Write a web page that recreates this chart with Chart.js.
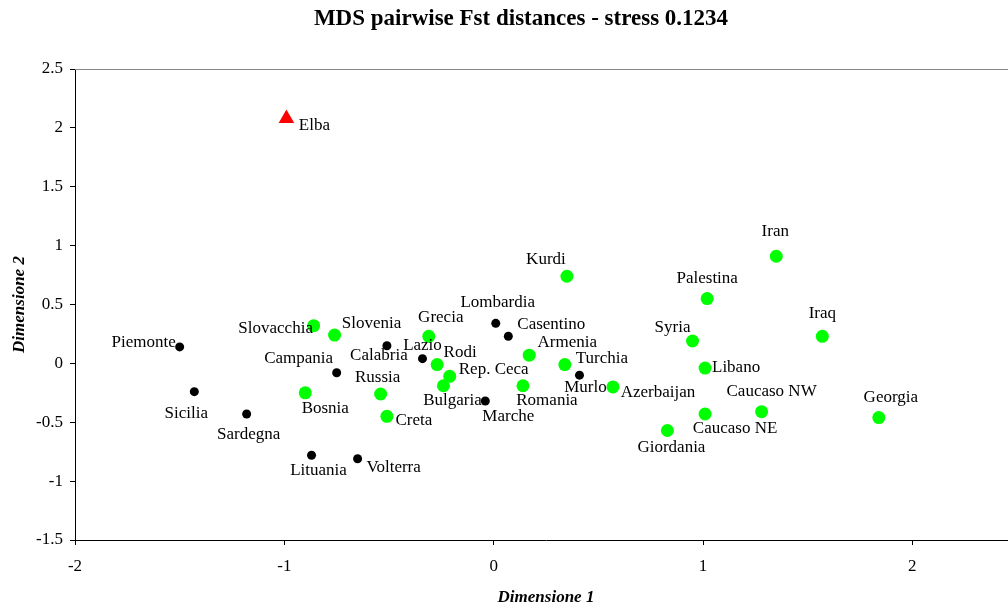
<!DOCTYPE html>
<html>
<head>
<meta charset="utf-8">
<script src="https://cdn.jsdelivr.net/npm/chart.js@4.4.1/dist/chart.umd.min.js"></script>
<style>
  html, body { margin: 0; padding: 0; background: #fff; overflow: hidden; }
  #wrap { width: 1026px; height: 607px; position: relative; }
</style>
</head>
<body>
<div id="wrap"><canvas id="mds"></canvas></div>
<script>
// DATA
const italyNames = ["Piemonte", "Sicilia", "Sardegna", "Campania", "Lituania", "Volterra", "Calabria",
  "Lazio", "Lombardia", "Casentino", "Marche", "Murlo"];
const italyX = [-1.50, -1.43, -1.18, -0.75, -0.87, -0.65, -0.51, -0.34, 0.01, 0.07, -0.04, 0.41];
const italyY = [0.14, -0.24, -0.43, -0.08, -0.78, -0.81, 0.15, 0.04, 0.34, 0.23, -0.32, -0.10];

const otherNames = ["Slovacchia", "Slovenia", "Grecia", "Rodi", "Rep. Ceca", "Bulgaria", "Russia", "Creta",
  "Bosnia", "Armenia", "Romania", "Turchia", "Kurdi", "Azerbaijan", "Palestina", "Iran", "Syria",
  "Libano", "Iraq", "Caucaso NW", "Caucaso NE", "Giordania", "Georgia"];
const otherX = [-0.86, -0.76, -0.31, -0.27, -0.21, -0.24, -0.54, -0.51, -0.90, 0.17, 0.14, 0.34, 0.35,
  0.57, 1.02, 1.35, 0.95, 1.01, 1.57, 1.28, 1.01, 0.83, 1.84];
const otherY = [0.32, 0.24, 0.23, -0.01, -0.11, -0.19, -0.26, -0.45, -0.25, 0.07, -0.19, -0.01, 0.74,
  -0.20, 0.55, 0.91, 0.19, -0.04, 0.23, -0.41, -0.43, -0.57, -0.46];

const elbaNames = ["Elba"];
const elbaX = [-0.99];
const elbaY = [2.08];

const xTicks = [-2, -1, 0, 1, 2];
const yTicks = [-1.5, -1, -0.5, 0, 0.5, 1, 1.5, 2, 2.5];

// label placement (text centre relative to the point, px)
const labelOffset = {
  "Elba": [28, 7], "Piemonte": [-36, -4], "Sicilia": [-8, 22], "Sardegna": [2, 21],
  "Campania": [-38, -14], "Lituania": [7, 15], "Volterra": [36, 9], "Calabria": [-8, 10],
  "Lazio": [0, -13], "Lombardia": [2, -21], "Casentino": [43, -12], "Marche": [23, 15],
  "Murlo": [6, 12], "Slovacchia": [-38, 3], "Slovenia": [37, -12], "Grecia": [12, -19],
  "Rodi": [23, -12], "Rep. Ceca": [44, -7], "Bulgaria": [9, 15], "Russia": [-3, -16],
  "Creta": [27, 4], "Bosnia": [20, 16], "Armenia": [38, -13], "Romania": [24, 15],
  "Turchia": [37, -6], "Kurdi": [-21, -17], "Azerbaijan": [45, 6], "Palestina": [0, -20],
  "Iran": [-1, -25], "Syria": [-20, -13], "Libano": [31, -1], "Iraq": [0, -23],
  "Caucaso NW": [10, -20], "Caucaso NE": [30, 15], "Giordania": [4, 17], "Georgia": [12, -20]
};

const toPoints = (xs, ys) => xs.map((x, i) => ({ x: x, y: ys[i] }));
const serif = "'Liberation Serif', 'DejaVu Serif', serif";

const labelsPlugin = {
  id: "pointLabels",
  afterDatasetsDraw(chart) {
    const ctx = chart.ctx;
    ctx.save();
    ctx.font = "17px " + serif;
    ctx.fillStyle = "#000";
    ctx.textAlign = "center";
    ctx.textBaseline = "middle";
    chart.data.datasets.forEach((ds, di) => {
      const meta = chart.getDatasetMeta(di);
      meta.data.forEach((el, i) => {
        const name = ds.names[i];
        const off = labelOffset[name] || [0, -15];
        ctx.fillText(name, el.x + off[0], el.y + off[1]);
      });
    });
    ctx.restore();
  }
};

const framePlugin = {
  id: "frame",
  beforeDatasetsDraw(chart) {
    const { ctx, chartArea } = chart;
    ctx.save();
    ctx.strokeStyle = "#888";
    ctx.lineWidth = 1;
    ctx.beginPath();
    ctx.moveTo(chartArea.left, chartArea.top + 0.5);
    ctx.lineTo(chartArea.right, chartArea.top + 0.5);
    ctx.stroke();
    ctx.restore();
  },
  afterDraw(chart) {
    const { ctx, chartArea } = chart;
    ctx.save();
    ctx.fillStyle = "#000";
    ctx.textAlign = "center";
    ctx.textBaseline = "middle";
    ctx.font = "bold 23px " + serif;
    ctx.fillText("MDS pairwise Fst distances - stress 0.1234", 521, 19);
    ctx.font = "italic bold 17px " + serif;
    ctx.fillText("Dimensione 1", (chartArea.left + chartArea.right) / 2, 598);
    ctx.translate(20, (chartArea.top + chartArea.bottom) / 2);
    ctx.rotate(-Math.PI / 2);
    ctx.fillText("Dimensione 2", 0, 0);
    ctx.restore();
  }
};

new Chart(document.getElementById("mds"), {
  type: "scatter",
  data: {
    datasets: [
      {
        label: "Italia",
        names: italyNames,
        data: toPoints(italyX, italyY),
        pointStyle: "circle",
        pointRadius: 4.5,
        backgroundColor: "#000",
        borderWidth: 0
      },
      {
        label: "Altri",
        names: otherNames,
        data: toPoints(otherX, otherY),
        pointStyle: "circle",
        pointRadius: 6.5,
        backgroundColor: "#00ff00",
        borderWidth: 0
      },
      {
        label: "Elba",
        names: elbaNames,
        data: toPoints(elbaX, elbaY),
        pointStyle: "triangle",
        pointRadius: 9,
        backgroundColor: "#ff0000",
        borderWidth: 0
      }
    ]
  },
  options: {
    responsive: true,
    maintainAspectRatio: false,
    animation: false,
    layout: { padding: { top: 69, left: 0, right: 4.5, bottom: 0 } },
    plugins: {
      legend: { display: false },
      tooltip: { enabled: false }
    },
    scales: {
      x: {
        type: "linear",
        min: -2,
        max: 2.5,
        afterBuildTicks: axis => { axis.ticks = xTicks.map(v => ({ value: v })); },
        afterFit: axis => { axis.height = 67; },
        ticks: { color: "#000", font: { family: serif, size: 17 }, padding: 11, maxRotation: 0,
          callback: v => String(v) },
        grid: { drawOnChartArea: false, tickLength: 5, color: "#000" },
        border: { color: "#000", width: 1 }
      },
      y: {
        type: "linear",
        min: -1.5,
        max: 2.5,
        afterBuildTicks: axis => { axis.ticks = yTicks.map(v => ({ value: v })); },
        afterFit: axis => { axis.width = 75; },
        ticks: { color: "#000", font: { family: serif, size: 17 }, padding: 7,
          callback: v => String(v) },
        grid: { drawOnChartArea: false, tickLength: 5, color: "#000" },
        border: { color: "#000", width: 1 }
      }
    }
  },
  plugins: [framePlugin, labelsPlugin]
});
</script>
</body>
</html>
